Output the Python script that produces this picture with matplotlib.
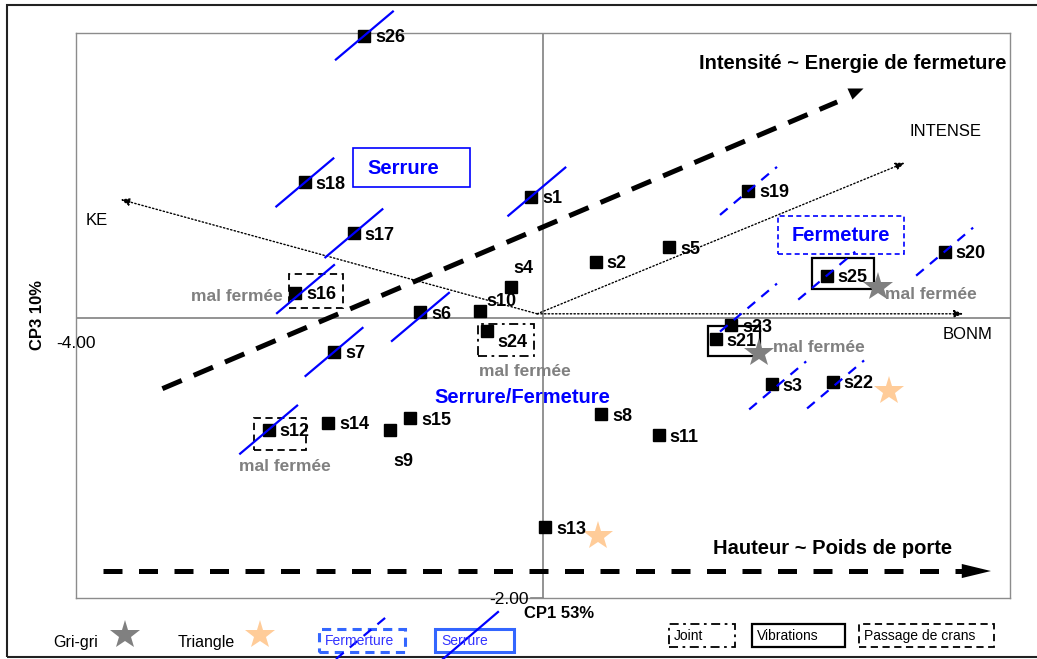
import matplotlib.pyplot as plt
from matplotlib.patches import Rectangle, Polygon
from matplotlib.lines import Line2D

plt.rcParams['font.family'] = ['Liberation Sans', 'DejaVu Sans']

# scores des individus sur CP1 (53%) et CP3 (10%)
noms = ["s1", "s2", "s3", "s4", "s5", "s6", "s7", "s8", "s9", "s10", "s11", "s12", "s13",
        "s14", "s15", "s16", "s17", "s18", "s19", "s20", "s21", "s22", "s23", "s24", "s25", "s26"]
cp1 = [-0.10, 0.45, 1.96, -0.27, 1.08, -1.05, -1.79, 0.50, -1.31, -0.54, 0.99, -2.35, 0.02,
       -1.84, -1.14, -2.12, -1.62, -2.04, 1.76, 3.44, 1.48, 2.48, 1.61, -0.48, 2.43, -1.53]
cp3 = [0.86, 0.40, -0.47, 0.22, 0.50, 0.04, -0.24, -0.68, -0.79, 0.05, -0.83, -0.79, -1.48,
       -0.74, -0.71, 0.18, 0.60, 0.96, 0.90, 0.47, -0.15, -0.45, -0.05, -0.09, 0.30, 2.00]

# variables projetees (fleches pointillees)
variables = ["KE", "INTENSE", "BONM"]
var_x = [-3.62, 3.10, 3.60]
var_y = [0.84, 1.10, 0.03]
origine = (-0.05, 0.03)

# groupes de defauts
serrure = ["s26", "s18", "s17", "s16", "s1", "s6", "s7", "s12"]
fermeture = ["s19", "s25", "s20", "s23", "s3", "s22"]
gri_gri_x = [2.87, 1.85]
gri_gri_y = [0.22, -0.25]
triangle_x = [2.96, 0.47]
triangle_y = [-0.52, -1.54]

pos = {n: (x, y) for n, x, y in zip(noms, cp1, cp3)}

W, H = 1037, 659
fig = plt.figure(figsize=(W / 100, H / 100), dpi=100)
ax = fig.add_axes([76 / W, 1 - 598 / H, (1010 - 76) / W, (598 - 33) / H])
ax.set_xlim(-4, 4)
ax.set_ylim(-1.982, 2.018)
ax.set_xticks([])
ax.set_yticks([])
for sp in ax.spines.values():
    sp.set_color('#8c8c8c')
    sp.set_linewidth(1.0)
ax.axhline(0, color='#808080', lw=1.2, zorder=1)
ax.axvline(0, color='#808080', lw=1.2, zorder=1)
ax.plot([-0.1, 0], [-1.982, -1.982], color='#808080', lw=1.2, clip_on=False)


def fx(px):
    return px / W


def fy(py):
    return 1 - py / H


# fleches des variables
for nom, vx, vy in zip(variables, var_x, var_y):
    ax.annotate("", xy=(vx, vy), xytext=origine,
                arrowprops=dict(arrowstyle='-|>,head_length=0.55,head_width=0.22',
                                linestyle=':', lw=1, color='black',
                                shrinkA=0, shrinkB=0))
ax.text(-3.82, 0.69, "KE", fontsize=12, ha='center', va='center')
ax.text(3.45, 1.32, "INTENSE", fontsize=12, ha='center', va='center')
ax.text(3.64, -0.12, "BONM", fontsize=12, ha='center', va='center')

# grande fleche "Intensite"
i_debut, i_fin, i_tete = (-3.26, -0.50), (2.52, 1.53), (2.665, 1.60)
ax.plot([i_debut[0], i_fin[0]], [i_debut[1], i_fin[1]], color='black', lw=3.6,
        dashes=(4.2, 2.6), solid_capstyle='butt', dash_capstyle='butt')
ax.plot([i_tete[0]], [i_tete[1]], marker=[(-7, 4), (9, 4), (-2, -7)], ms=13,
        color='black', mew=0)
ax.text(2.65, 1.80, "Intensité ~ Energie de fermeture", fontsize=14.5,
        fontweight='bold', ha='center', va='center')

# grande fleche "Hauteur"
h_debut, h_fin, h_y = -3.77, 3.837, -1.791
h_base = h_fin - 0.25
ax.plot([h_debut, h_base], [h_y, h_y], color='black', lw=3.6, dashes=(3.8, 3.3),
        dash_capstyle='butt')
ax.add_patch(Polygon([(h_base, h_y + 0.05), (h_fin, h_y), (h_base, h_y - 0.05)],
                     closed=True, color='black', lw=0))
ax.text(2.48, -1.635, "Hauteur ~ Poids de porte", fontsize=14.5, fontweight='bold',
        ha='center', va='center')

# individus
ax.plot(cp1, cp3, 's', ms=8.5, color='black', ls='none', zorder=3, clip_on=False)
decal = {"s4": (1.5, 15), "s10": (4.3, 8), "s9": (2.2, -21.5), "s24": (7.2, -7.2)}
for n, x, y in zip(noms, cp1, cp3):
    ox, oy = decal.get(n, (7.9, 0))
    ax.annotate(n, (x, y), xytext=(ox, oy), textcoords='offset points', fontsize=13,
                fontweight='bold', ha='left', va='center_baseline', zorder=6)

# segments Serrure / Fermeture
demi = (0.244, 0.170)
decal_seg = {"s16": (0.086, 0.025), "s1": (0.047, 0.035), "s6": (0.0, -0.032),
             "s23": (0.150, 0.124), "s3": (0.05, -0.007), "s22": (0.026, -0.02)}
for n in serrure:
    x, y = pos[n]
    dx, dy = decal_seg.get(n, (0, 0))
    ax.plot([x + dx - demi[0], x + dx + demi[0]], [y + dy - demi[1], y + dy + demi[1]],
            color='#0000FF', lw=1.6, zorder=4, clip_on=False)
for n in fermeture:
    x, y = pos[n]
    dx, dy = decal_seg.get(n, (0, 0))
    ax.plot([x + dx - demi[0], x + dx + demi[0]], [y + dy - demi[1], y + dy + demi[1]],
            color='#0000FF', lw=1.6, dashes=(4.5, 3.6), zorder=4, clip_on=False)

# cadres autour des individus
styles = {"crans": dict(ls=(0, (4, 2.5)), lw=1.3),
          "joint": dict(ls=(0, (5, 2.5, 1.5, 2.5)), lw=1.3),
          "vib": dict(ls='-', lw=1.6)}
cadres = [("s16", -0.052, -0.106, 0.463, 0.241, "crans"),
          ("s12", -0.128, -0.142, 0.445, 0.227, "crans"),
          ("s24", -0.077, -0.177, 0.480, 0.227, "joint"),
          ("s25", -0.129, -0.092, 0.531, 0.220, "vib"),
          ("s21", -0.069, -0.120, 0.446, 0.212, "vib")]
for n, rx, ry, w, h, st in cadres:
    x, y = pos[n]
    ax.add_patch(Rectangle((x + rx, y + ry), w, h, fill=False, edgecolor='black',
                           zorder=2, **styles[st]))

# etoiles
ax.plot(gri_gri_x, gri_gri_y, '*', ms=22, color='#808080', mew=0, ls='none', zorder=5)
ax.plot(triangle_x, triangle_y, '*', ms=22, color='#FFCC99', mew=0, ls='none', zorder=5)

# "mal fermee"
for tx, ty in [(-2.62, 0.156), (-0.154, -0.375), (-2.21, -1.048), (3.323, 0.17),
               (2.364, -0.212)]:
    ax.text(tx, ty, "mal fermée", color='#808080', fontsize=12.5, fontweight='bold',
            ha='center', va='center', zorder=6)

# etiquettes des groupes
ax.add_patch(Rectangle((-1.627, 0.928), 1.002, 0.276, fill=False, edgecolor='#0000FF',
                       lw=1.2, zorder=2))
ax.text(-1.508, 1.062, "Serrure", color='#0000FF', fontsize=14.5, fontweight='bold',
        ha='left', va='center')
ax.add_patch(Rectangle((2.013, 0.453), 1.079, 0.269, fill=False, edgecolor='#0000FF',
                       lw=1.2, ls=(0, (3, 2)), zorder=2))
ax.text(2.552, 0.581, "Fermeture", color='#0000FF', fontsize=14.5, fontweight='bold',
        ha='center', va='center')
ax.text(-0.18, -0.566, "Serrure/Fermeture", color='#0000FF', fontsize=14.5,
        fontweight='bold', ha='center', va='center')

# titres des axes
fig.text(fx(559), fy(614), "CP1 53%", fontsize=12, fontweight='bold', ha='center', va='center')
fig.text(fx(37), fy(315), "CP3 10%", fontsize=12, fontweight='bold', rotation=90,
         ha='center', va='center')
fig.text(fx(76), fy(343), "-4.00", fontsize=12.5, ha='center', va='center')
fig.text(fx(529), fy(600), "-2.00", fontsize=12.5, ha='right', va='center')

# legende
fig.text(fx(53), fy(642), "Gri-gri", fontsize=11.5, va='center')
fig.add_artist(Line2D([fx(125)], [fy(635)], marker='*', ms=22, color='#808080', mew=0))
fig.text(fx(178), fy(642), "Triangle", fontsize=11.5, va='center')
fig.add_artist(Line2D([fx(260)], [fy(635)], marker='*', ms=22, color='#FFCC99', mew=0))

fig.add_artist(Rectangle((fx(319), fy(652)), fx(405) - fx(319), fy(629) - fy(652),
                         transform=fig.transFigure, fill=False, edgecolor='#3366FF',
                         lw=2.2, ls=(0, (3, 2))))
fig.text(fx(325), fy(641), "Fermerture", fontsize=10, color='#3333FF', va='center')
fig.add_artist(Rectangle((fx(435), fy(652)), fx(514) - fx(435), fy(629) - fy(652),
                         transform=fig.transFigure, fill=False, edgecolor='#3366FF', lw=2.2))
fig.text(fx(441), fy(641), "Serrure", fontsize=10, color='#3333FF', va='center')
fig.add_artist(Line2D([fx(336), fx(391)], [fy(659), fy(613)], color='#0000FF', lw=1.6,
                      dashes=(4.5, 3.6)))
fig.add_artist(Line2D([fx(443), fx(498)], [fy(659), fy(612)], color='#0000FF', lw=1.6))

legende_cadres = [(669, 735, "Joint", dict(ls=(0, (5, 2.5, 1.5, 2.5)), lw=1.3)),
                  (752, 845, "Vibrations", dict(ls='-', lw=1.6)),
                  (859, 994, "Passage de crans", dict(ls=(0, (4, 2.5)), lw=1.3))]
for x0, x1, lab, st in legende_cadres:
    fig.add_artist(Rectangle((fx(x0), fy(647)), fx(x1) - fx(x0), fy(624) - fy(647),
                             transform=fig.transFigure, fill=False, edgecolor='black', **st))
    fig.text(fx(x0 + 5), fy(636), lab, fontsize=10, va='center')

# cadre exterieur
fig.add_artist(Rectangle((fx(7), fy(657)), fx(1060) - fx(7), fy(5) - fy(657),
                         transform=fig.transFigure, fill=False, edgecolor='#222222', lw=1.5))

fig.savefig("out.png", dpi=100)
